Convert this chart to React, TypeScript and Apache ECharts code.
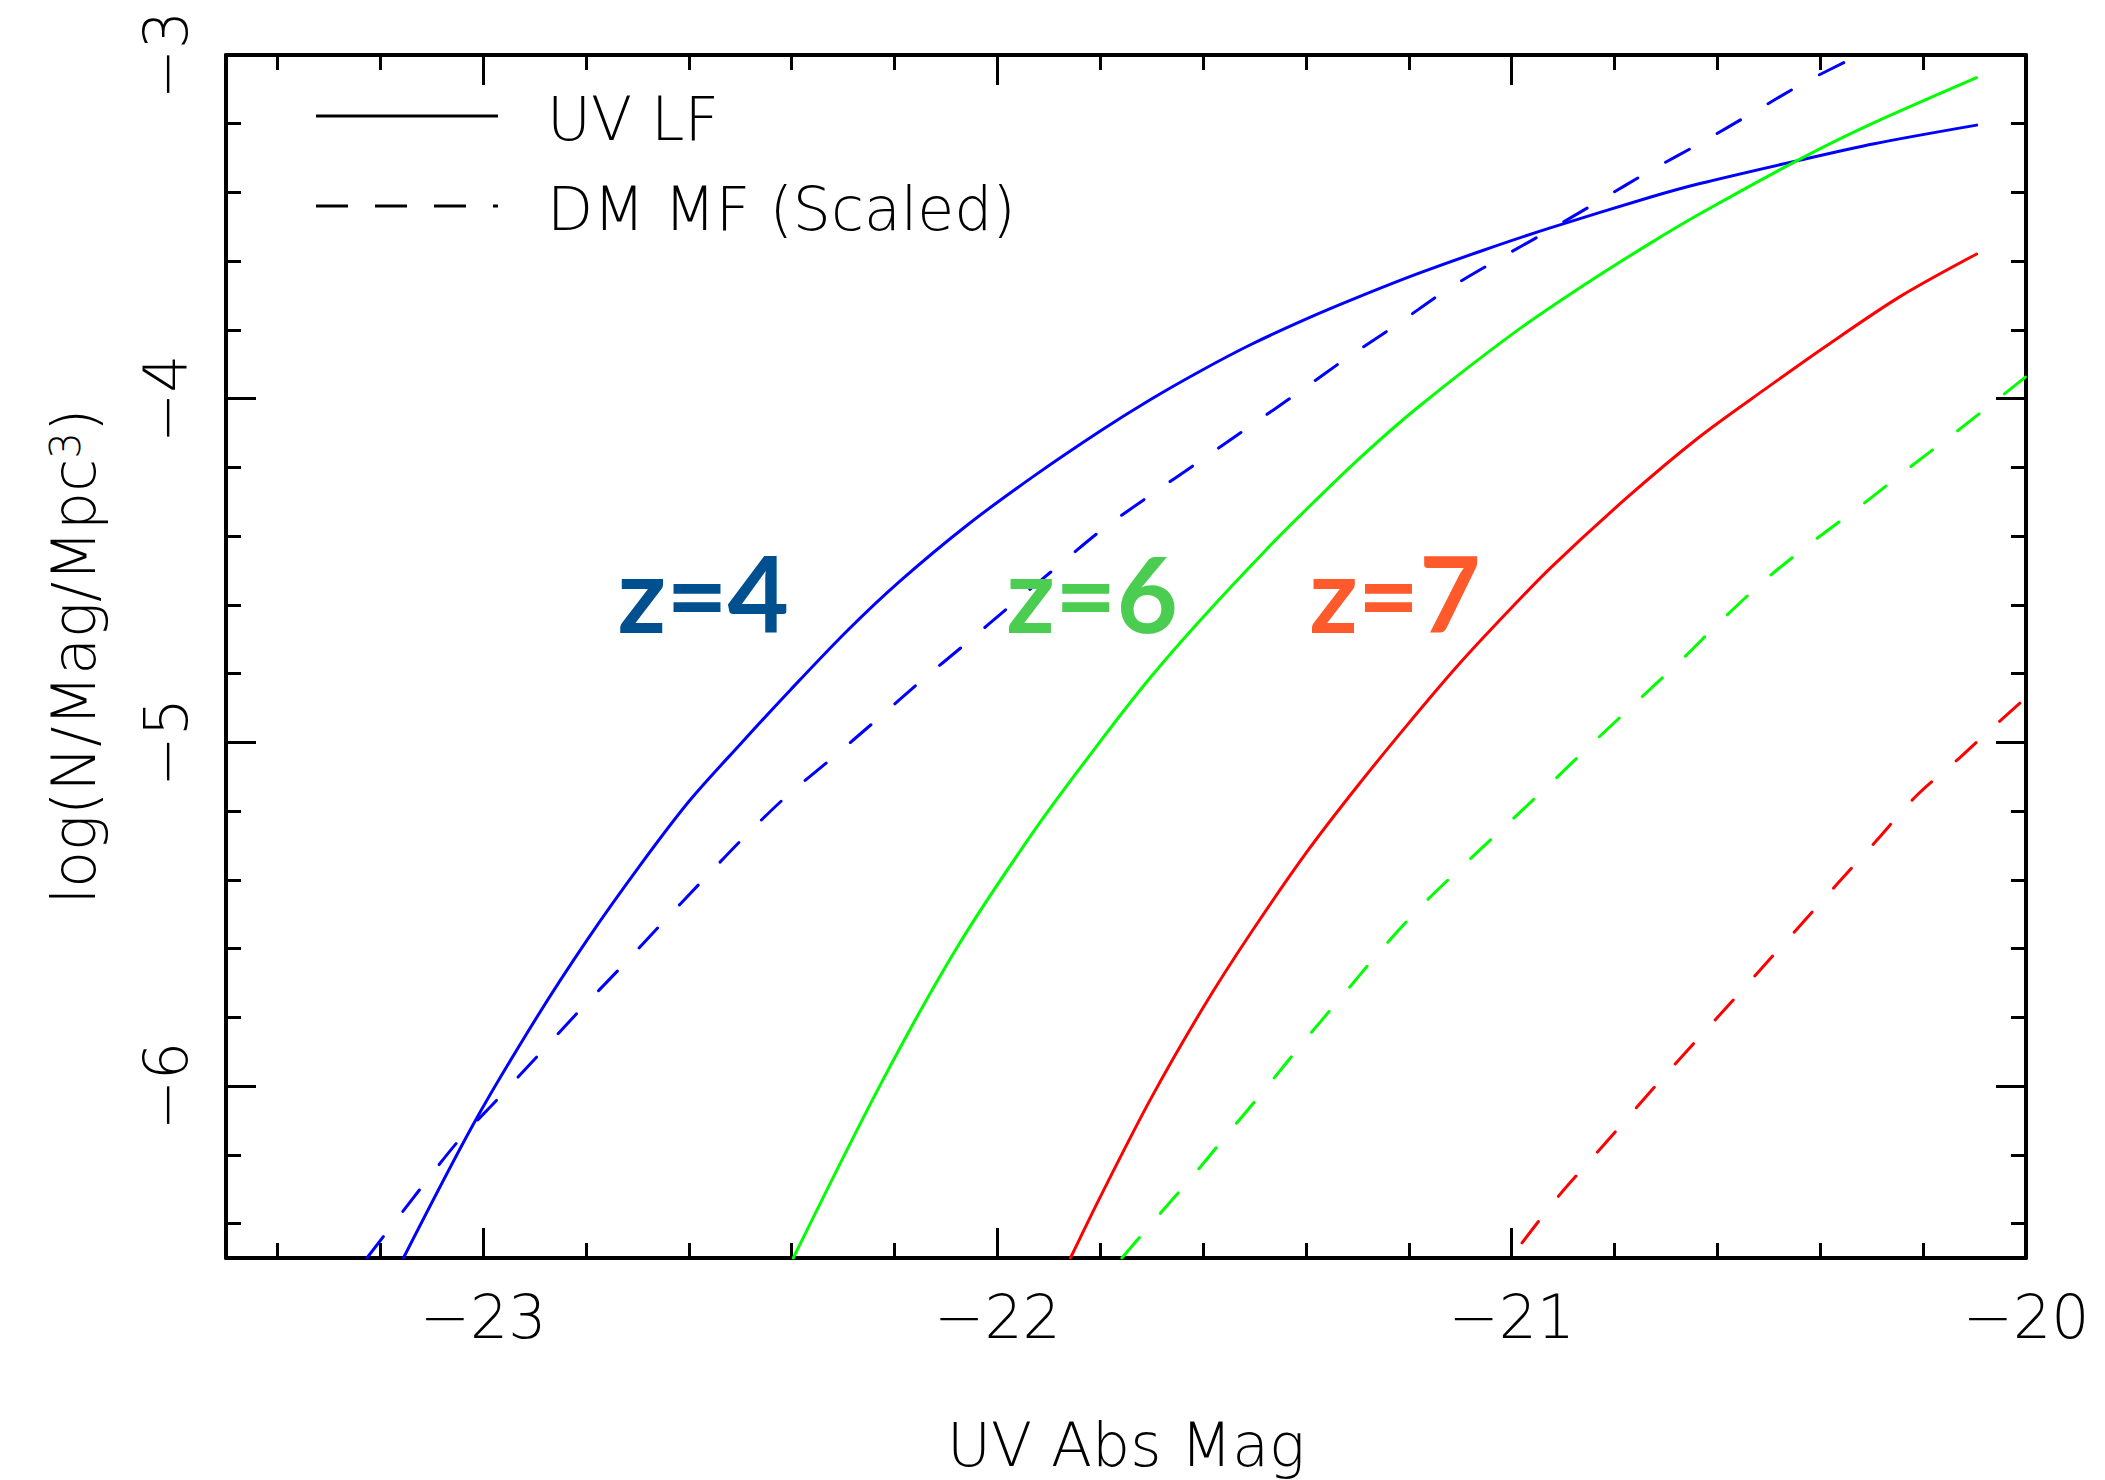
import React, { useEffect, useRef } from "react";
import * as echarts from "echarts";

// Axis ranges: UV absolute magnitude vs. log number density
const X_MIN = -23.5;
const X_MAX = -20;
const Y_MIN = -6.5;
const Y_MAX = -3;

const xMajorTicks = [-23, -22, -21, -20];
const xMinorTicks = [
  -23.4, -23.2, -22.8, -22.6, -22.4, -22.2, -21.8, -21.6, -21.4, -21.2, -20.8,
  -20.6, -20.4, -20.2,
];
const yMajorTicks = [-6, -5, -4, -3];
const yMinorTicks = [
  -6.4, -6.2, -5.8, -5.6, -5.4, -5.2, -4.8, -4.6, -4.4, -4.2, -3.8, -3.6, -3.4,
  -3.2,
];

// UV luminosity functions (solid) and scaled dark-matter mass functions (dashed)
const uvLfZ4: [number, number][] = [
  [-23.155, -6.5], [-23.018, -6.108], [-22.895, -5.798], [-22.798, -5.575],
  [-22.697, -5.362], [-22.6, -5.172], [-22.5, -5.005], [-22.403, -4.848],
  [-22.292, -4.675], [-22.189, -4.53], [-22.059, -4.368], [-21.93, -4.226],
  [-21.8, -4.094], [-21.703, -4.003], [-21.606, -3.92], [-21.508, -3.843],
  [-21.398, -3.767], [-21.301, -3.706], [-21.184, -3.637], [-21.055, -3.568],
  [-20.925, -3.503], [-20.731, -3.414], [-20.634, -3.374], [-20.446, -3.308],
  [-20.295, -3.258], [-20.096, -3.204],
];
const dmMfZ4: [number, number][] = [
  [-23.226, -6.5], [-23.16, -6.372], [-23.052, -6.166], [-22.972, -6.038],
  [-22.894, -5.912], [-22.815, -5.784], [-22.735, -5.659], [-22.657, -5.534],
  [-22.576, -5.406], [-22.496, -5.281], [-22.414, -5.162], [-22.325, -5.05],
  [-22.237, -4.937], [-22.15, -4.823], [-22.061, -4.712], [-21.973, -4.6],
  [-21.884, -4.489], [-21.795, -4.379], [-21.699, -4.277], [-21.606, -4.181],
  [-21.51, -4.081], [-21.414, -3.981], [-21.32, -3.881], [-21.222, -3.783],
  [-21.129, -3.686], [-21.028, -3.596], [-20.928, -3.511], [-20.827, -3.422],
  [-20.731, -3.337], [-20.634, -3.257], [-20.528, -3.165], [-20.428, -3.078],
  [-20.324, -3.0],
];
const uvLfZ6: [number, number][] = [
  [-22.397, -6.5], [-22.228, -5.997], [-22.08, -5.6], [-21.923, -5.245],
  [-21.8, -4.997], [-21.703, -4.812], [-21.606, -4.645], [-21.476, -4.437],
  [-21.398, -4.32], [-21.295, -4.172], [-21.184, -4.027], [-20.997, -3.81],
  [-20.86, -3.67], [-20.731, -3.548], [-20.634, -3.462], [-20.446, -3.308],
  [-20.31, -3.207], [-20.096, -3.066],
];
const dmMfZ6: [number, number][] = [
  [-21.758, -6.5], [-21.7, -6.399], [-21.624, -6.268], [-21.55, -6.135],
  [-21.476, -6.002], [-21.403, -5.868], [-21.328, -5.735], [-21.253, -5.602],
  [-21.176, -5.476], [-21.092, -5.355], [-21.008, -5.237], [-20.923, -5.117],
  [-20.84, -4.998], [-20.755, -4.879], [-20.67, -4.76], [-20.588, -4.639],
  [-20.504, -4.523], [-20.413, -4.414], [-20.319, -4.309], [-20.229, -4.203],
  [-20.138, -4.099], [-20.0, -3.936],
];
const uvLfZ7: [number, number][] = [
  [-21.858, -6.5], [-21.8, -6.322], [-21.703, -6.04], [-21.599, -5.769],
  [-21.508, -5.556], [-21.398, -5.318], [-21.301, -5.129], [-21.203, -4.949],
  [-21.107, -4.78], [-21.023, -4.644], [-20.925, -4.493], [-20.776, -4.288],
  [-20.634, -4.11], [-20.51, -3.975], [-20.387, -3.845], [-20.245, -3.703],
  [-20.096, -3.579],
];
const dmMfZ7: [number, number][] = [
  [-20.98, -6.456], [-20.909, -6.32], [-20.831, -6.188], [-20.7, -5.965],
  [-20.569, -5.749], [-20.523, -5.672], [-20.446, -5.544], [-20.369, -5.415],
  [-20.291, -5.286], [-20.213, -5.155], [-20.127, -5.042], [-20.083, -4.981],
  [-20.0, -4.87],
];

// Redshift annotations, anchored in data coordinates
const redshiftTexts = ["z=4", "z=6", "z=7"];
const redshiftAnchors: [number, number][] = [
  [-22.572, -4.562],
  [-21.816, -4.562],
  [-21.227, -4.562],
];

const legendTexts = ["UV LF", "DM MF (Scaled)"];

const FONT = "'DejaVu Sans', 'Liberation Sans', sans-serif";
const BLUE = "#0000ff";
const GREEN = "#00ff00";
const RED = "#ff0000";
const LABEL_COLORS = ["#00508f", "#4bcd52", "#ff5a2b"];

const fmt = (v: number) => (v < 0 ? "\u2212" + Math.abs(v) : String(v));

const textStyle = {
  color: "#000",
  fontSize: 60,
  fontFamily: FONT,
  fontWeight: 200 as any,
};

const frameLine = {
  show: true,
  onZero: false,
  lineStyle: { color: "#000", width: 4 },
};

function makeAxis(
  dim: "x" | "y",
  gridIndex: number,
  position: string,
  ticks: number[],
  tickLen: number,
  withLine: boolean,
  withLabels: boolean
): any {
  return {
    type: "value",
    gridIndex,
    position,
    min: dim === "x" ? X_MIN : Y_MIN,
    max: dim === "x" ? X_MAX : Y_MAX,
    axisLine: withLine ? frameLine : { show: false },
    axisTick: {
      show: true,
      inside: true,
      length: tickLen,
      customValues: ticks,
      lineStyle: { color: "#000", width: 3 },
    },
    axisLabel: withLabels
      ? {
          show: true,
          customValues: ticks,
          formatter: fmt,
          margin: dim === "x" ? 29 : 30,
          rotate: dim === "x" ? 0 : 90,
          ...textStyle,
        }
      : { show: false },
    splitLine: { show: false },
    minorTick: { show: false },
    silent: true,
  };
}

function curve(name: string, data: [number, number][], color: string, dashed: boolean): any {
  return {
    type: "line",
    name,
    data,
    xAxisIndex: 0,
    yAxisIndex: 0,
    symbol: "none",
    showSymbol: false,
    smooth: 0.3,
    clip: true,
    silent: true,
    z: 3,
    lineStyle: {
      color,
      width: 3,
      type: dashed ? [27, 32] : "solid",
      cap: "round",
      join: "round",
    },
  };
}

const GRID = { left: 226, top: 55, width: 1800, height: 1203 };

const xBottom = makeAxis("x", 0, "bottom", xMajorTicks, 30, true, true);
xBottom.name = "UV Abs Mag";
xBottom.nameLocation = "middle";
xBottom.nameGap = 157;
xBottom.nameTextStyle = { ...textStyle };

const yLeft = makeAxis("y", 0, "left", yMajorTicks, 30, true, true);
yLeft.name = "log(N/Mag/Mpc{sup|3})";
yLeft.nameLocation = "middle";
yLeft.nameRotate = 90;
yLeft.nameGap = 122;
yLeft.nameTextStyle = {
  ...textStyle,
  rich: {
    sup: { ...textStyle, fontSize: 42, verticalAlign: "top" },
  },
};

const option: any = {
  animation: false,
  backgroundColor: "#ffffff",
  grid: [
    { ...GRID, containLabel: false },
    { ...GRID, containLabel: false },
  ],
  xAxis: [
    xBottom,
    makeAxis("x", 0, "top", xMajorTicks, 30, true, false),
    makeAxis("x", 1, "bottom", xMinorTicks, 15, false, false),
    makeAxis("x", 1, "top", xMinorTicks, 15, false, false),
  ],
  yAxis: [
    yLeft,
    makeAxis("y", 0, "right", yMajorTicks, 30, true, false),
    makeAxis("y", 1, "left", yMinorTicks, 15, false, false),
    makeAxis("y", 1, "right", yMinorTicks, 15, false, false),
  ],
  series: [
    curve("UV LF z=4", uvLfZ4, BLUE, false),
    curve("DM MF z=4", dmMfZ4, BLUE, true),
    curve("UV LF z=6", uvLfZ6, GREEN, false),
    curve("DM MF z=6", dmMfZ6, GREEN, true),
    curve("UV LF z=7", uvLfZ7, RED, false),
    curve("DM MF z=7", dmMfZ7, RED, true),
    {
      type: "scatter",
      xAxisIndex: 0,
      yAxisIndex: 0,
      symbolSize: 0,
      silent: true,
      z: 4,
      itemStyle: { opacity: 1 },
      data: redshiftAnchors.map((p, i) => ({
        value: p,
        label: {
          show: true,
          position: "inside",
          formatter: redshiftTexts[i],
          color: LABEL_COLORS[i],
          opacity: 1,
          fontSize: 106,
          fontWeight: "bold",
          fontFamily: "Lato, 'Open Sans', sans-serif",
          align: "center",
          verticalAlign: "middle",
        },
      })),
    },
  ],
  graphic: [
    {
      type: "line",
      shape: { x1: 316, y1: 116, x2: 498, y2: 116 },
      style: { stroke: "#000", lineWidth: 3 },
    },
    {
      type: "line",
      shape: { x1: 316, y1: 206, x2: 498, y2: 206 },
      style: { stroke: "#000", lineWidth: 3, lineDash: [32, 27] },
    },
    {
      type: "text",
      x: 547,
      y: 119,
      style: {
        text: legendTexts[0],
        fill: "#000",
        fontSize: 60,
        fontFamily: FONT,
        fontWeight: 200,
        align: "left",
        verticalAlign: "middle",
      },
    },
    {
      type: "text",
      x: 547,
      y: 209,
      style: {
        text: legendTexts[1],
        fill: "#000",
        fontSize: 60,
        fontFamily: FONT,
        fontWeight: 200,
        align: "left",
        verticalAlign: "middle",
      },
    },
  ],
};

export default function App() {
  const ref = useRef<HTMLDivElement>(null);
  useEffect(() => {
    if (!ref.current) return;
    const chart = echarts.init(ref.current, null, { renderer: "svg" });
    chart.setOption(option);
    return () => chart.dispose();
  }, []);
  return (
    <div
      ref={ref}
      style={{
        position: "fixed",
        left: 0,
        top: 0,
        width: 2105,
        height: 1480,
        background: "#fff",
      }}
    />
  );
}
